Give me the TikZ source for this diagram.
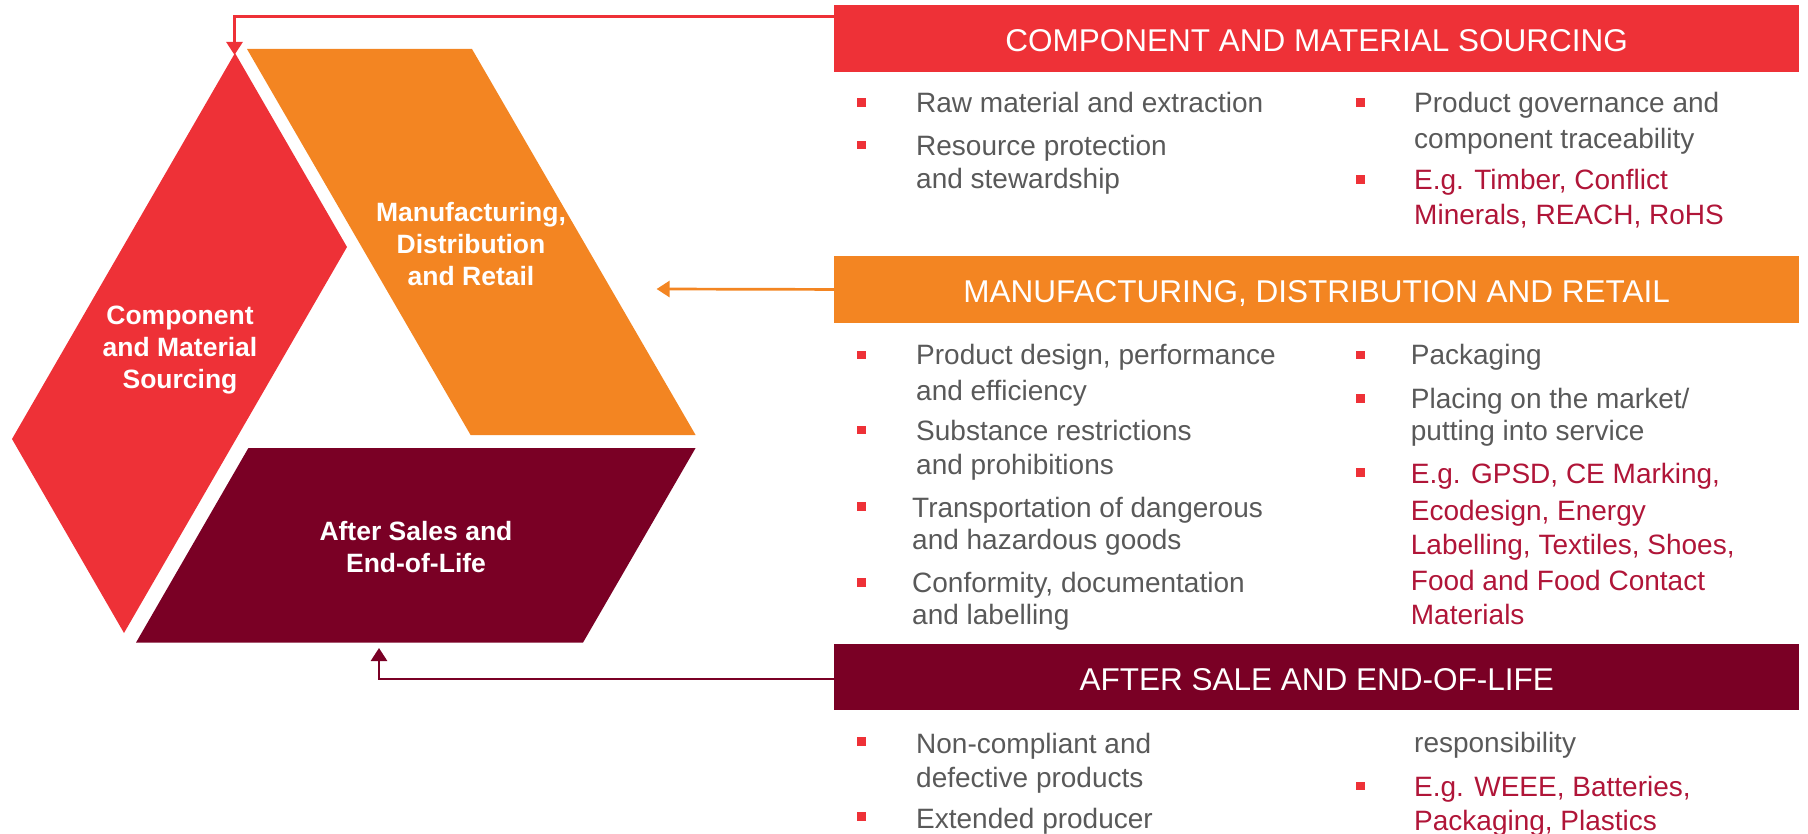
\documentclass[tikz,border=0pt]{standalone}
\usepackage{fontspec}
\setmainfont{Liberation Sans}
\usetikzlibrary{arrows.meta}
\definecolor{cmsred}{HTML}{EE3137}
\definecolor{mdrorange}{HTML}{F38522}
\definecolor{aslmaroon}{HTML}{7A0025}
\definecolor{bodygray}{HTML}{595959}
\definecolor{egred}{HTML}{B01538}
\begin{document}
\begin{tikzpicture}[x=1pt,y=-1pt,
  head/.style={minimum width=965pt, minimum height=66.5pt, inner sep=0pt, anchor=north west,
    text=white, font=\fontsize{31.5}{36}\selectfont, text height=27pt, text depth=0.2pt},
  stage/.style={text=white, align=center, font=\bfseries\fontsize{26.5}{31.8}\selectfont},
  body/.style={anchor=base west, inner sep=0pt, text=bodygray, font=\fontsize{28}{34}\selectfont},
  eg/.style={body, text=egred},
  bullet/.style={fill=cmsred, minimum width=9pt, minimum height=8.5pt, inner sep=0pt},
  link/.style={line width=2.7pt, -{Triangle[width=16pt,length=13pt]}}]
  \useasboundingbox (0,0) rectangle (1808,834);
  \clip (0,0) rectangle (1808,834);

  % Left: the three stages as a broken triangle
  \fill[cmsred] (235,53) -- (347,247) -- (124,633) -- (12,439) -- cycle;
  \fill[mdrorange] (247,49) -- (472,49) -- (695.6,435) -- (470.6,435) -- cycle;
  \fill[aslmaroon] (248.4,448) -- (695.6,448) -- (583,642.6) -- (136,642.6) -- cycle;
  \node[stage] (cmsLabel) at (180,350) {Component\\and Material\\Sourcing};
  \node[stage] (mdrLabel) at (471,244.3) {Manufacturing,\\Distribution\\and Retail};
  \node[stage] (aslLabel) at (416,547) {After Sales and\\End-of-Life};

  % Right: one header per stage
  \node[head, fill=cmsred] (cmsHead) at (834,5) {COMPONENT AND MATERIAL SOURCING};
  \node[head, fill=mdrorange] (mdrHead) at (834,256) {MANUFACTURING, DISTRIBUTION AND RETAIL};
  \node[head, fill=aslmaroon] (aslHead) at (834,643.5) {AFTER SALE AND END-OF-LIFE};

  % arrows back to the stages
  \coordinate (cmsTurn) at (234.5,16.5);
  \coordinate (cmsTip) at (234.5,55);
  \coordinate (mdrTip) at (656.6,289);
  \coordinate (aslTurn) at (379,679);
  \coordinate (aslTip) at (379,648);
  \draw[link, cmsred] (cmsHead.west |- cmsTurn) -- (cmsTurn) -- (cmsTip);
  \draw[link, mdrorange] (mdrHead.west) -- (mdrTip);
  \draw[link, aslmaroon] (aslHead.west |- aslTurn) -- (aslTurn) -- (aslTip);

  % sourcing items
  \foreach \by [count=\i] in {102.5,145.2}
    \node[bullet] (cms-b\i) at (861,\by) {};
  \foreach \by [count=\i] in {102.5,179.5}
    \node[bullet] (cms-c\i) at (1360,\by) {};
  \foreach \ly/\lt [count=\i] in {112.7/{Raw material and extraction}, 156/{Resource protection}, 188.3/{and stewardship}}
    \node[body] (cms-l\i) at (916,\ly) {\lt};
  \foreach \ly/\lt [count=\i] in {112.7/{Product governance and}, 148.3/{component traceability}}
    \node[body] (cms-r\i) at (1414,\ly) {\lt};
  \foreach \ly/\lt [count=\i] in {190/{E.g. Timber, Conflict}, 225/{Minerals, REACH, RoHS}}
    \node[eg] (cms-e\i) at (1414,\ly) {\lt};

  % manufacturing items
  \foreach \by [count=\i] in {355,430,506.7,582.3}
    \node[bullet] (mdr-b\i) at (861,\by) {};
  \foreach \by [count=\i] in {355,398.3,472.7}
    \node[bullet] (mdr-c\i) at (1360,\by) {};
  \foreach \lx/\ly/\lt [count=\i] in {916/365/{Product design, performance}, 916/400/{and efficiency},
      916/440/{Substance restrictions}, 916/474/{and prohibitions},
      912/517.3/{Transportation of dangerous}, 912/549.3/{and hazardous goods},
      912/592.7/{Conformity, documentation}, 912/624/{and labelling}}
    \node[body] (mdr-l\i) at (\lx,\ly) {\lt};
  \foreach \ly/\lt [count=\i] in {365/{Packaging}, 408.3/{Placing on the market/}, 440/{putting into service}}
    \node[body] (mdr-r\i) at (1410.7,\ly) {\lt};
  \foreach \ly/\lt [count=\i] in {483.3/{E.g. GPSD, CE Marking,}, 520.7/{Ecodesign, Energy},
      554/{Labelling, Textiles, Shoes,}, 590/{Food and Food Contact}, 624/{Materials}}
    \node[eg] (mdr-e\i) at (1410.7,\ly) {\lt};

  % after sale items
  \foreach \by [count=\i] in {741.7,816.7}
    \node[bullet] (asl-b\i) at (861,\by) {};
  \node[bullet] (asl-c1) at (1360,786) {};
  \foreach \ly/\lt [count=\i] in {753.3/{Non-compliant and}, 787.3/{defective products}, 828.3/{Extended producer}}
    \node[body] (asl-l\i) at (916,\ly) {\lt};
  \node[body] (asl-r1) at (1414,752.3) {responsibility};
  \foreach \ly/\lt [count=\i] in {796.7/{E.g. WEEE, Batteries,}, 830/{Packaging, Plastics}}
    \node[eg] (asl-e\i) at (1414,\ly) {\lt};
\end{tikzpicture}
\end{document}
